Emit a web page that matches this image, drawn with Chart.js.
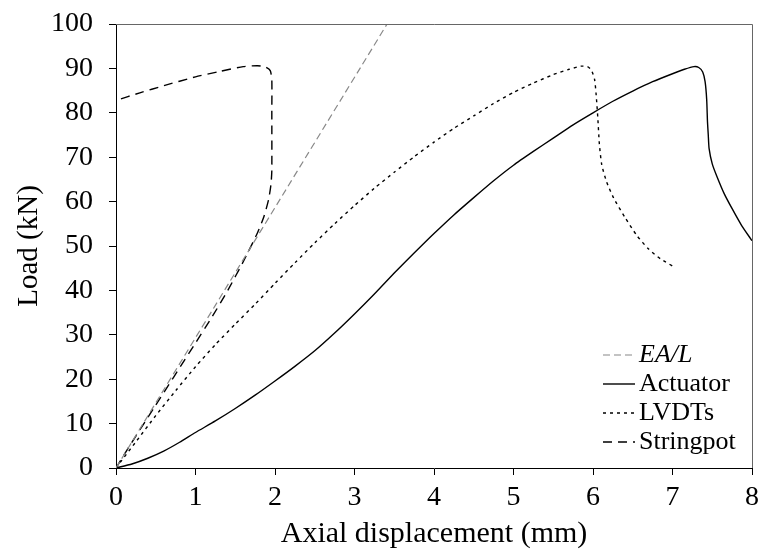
<!DOCTYPE html>
<html>
<head>
<meta charset="utf-8">
<script src="https://cdn.jsdelivr.net/npm/chart.js@4"></script>
<style>
  body { margin: 0; background: #fff; }
</style>
</head>
<body>
<canvas id="loadChart" width="761" height="552"></canvas>
<script>
// load vs axial displacement

const xTicks = [0, 1, 2, 3, 4, 5, 6, 7, 8];
const yTicks = [0, 10, 20, 30, 40, 50, 60, 70, 80, 90, 100];

const eaDisp = [0, 3.41];
const eaLoad = [0, 100];

const actuatorDisp = [0, 0.2, 0.4, 0.6, 0.8, 1.0, 1.25, 1.5, 1.75, 2.0, 2.25, 2.5, 2.75, 3.0, 3.25, 3.5, 3.75, 4.0, 4.25, 4.5, 4.75, 5.0, 5.25, 5.5, 5.75, 6.0, 6.25, 6.5, 6.75, 7.0, 7.15, 7.27, 7.33, 7.38, 7.41, 7.43, 7.44, 7.45, 7.46, 7.5, 7.56, 7.65, 7.75, 7.87, 8.0];
const actuatorLoad = [0, 0.9, 2.2, 3.8, 5.8, 8.0, 10.6, 13.4, 16.4, 19.6, 22.9, 26.4, 30.4, 34.7, 39.2, 43.9, 48.4, 52.8, 57.0, 60.9, 64.7, 68.2, 71.3, 74.3, 77.3, 80.0, 82.6, 84.9, 87.0, 88.8, 89.8, 90.4, 90.2, 89.2, 87, 83, 78, 75, 72, 68.5, 65.6, 61.8, 58.4, 54.6, 51.2];

const lvdtDisp = [0, 0.25, 0.5, 0.75, 1.0, 1.25, 1.5, 1.75, 2.0, 2.25, 2.5, 2.75, 3.0, 3.25, 3.5, 3.75, 4.0, 4.25, 4.5, 4.75, 5.0, 5.25, 5.5, 5.7, 5.85, 5.93, 5.98, 6.02, 6.04, 6.06, 6.08, 6.11, 6.17, 6.26, 6.4, 6.55, 6.7, 6.85, 7.01];
const lvdtLoad = [0, 5.9, 11.8, 17.4, 22.8, 27.8, 32.4, 36.9, 41.6, 46.2, 50.7, 55.0, 59.1, 63.0, 66.6, 70.1, 73.4, 76.5, 79.3, 82.1, 84.6, 86.7, 88.6, 89.8, 90.5, 90.4, 89.6, 87.5, 84, 79, 73, 68.3, 64.5, 60.8, 56.5, 52.4, 49.3, 47.1, 45.4];

const stringpotDisp = [0, 0.14, 0.48, 0.98, 1.2, 1.4, 1.61, 1.77, 1.86, 1.92, 1.95, 1.96, 1.96, 1.96, 1.94, 1.88, 1.78, 1.6, 1.3, 1.0, 0.6, 0.3, 0];
const stringpotLoad = [0, 4.1, 13.6, 27.6, 33.8, 39.8, 46.8, 52.6, 56.6, 60.5, 64, 67, 80, 87.5, 89.5, 90.3, 90.6, 90.4, 89.3, 88.1, 86.1, 84.5, 82.8];

const toPoints = (xs, ys) => xs.map((x, i) => ({ x: x, y: ys[i] }));

const serif = '"Liberation Serif", "Times New Roman", serif';

// legend drawn inside the plot, lower right
const insideLegend = {
  id: 'insideLegend',
  afterDatasetsDraw(chart) {
    const ctx = chart.ctx;
    const area = chart.chartArea;
    const x0 = area.right - 149;
    let y = area.bottom - 113;
    ctx.save();
    chart.data.datasets.forEach(ds => {
      ctx.beginPath();
      ctx.setLineDash(ds.borderDash || []);
      ctx.strokeStyle = ds.borderColor;
      ctx.lineWidth = ds.borderWidth;
      ctx.moveTo(x0, y);
      ctx.lineTo(x0 + 32, y);
      ctx.stroke();
      ctx.setLineDash([]);
      ctx.fillStyle = '#000';
      ctx.font = (ds.italic ? 'italic ' : '') + '26px ' + serif;
      ctx.textBaseline = 'middle';
      ctx.fillText(ds.label, x0 + 36, y);
      y += 29;
    });
    ctx.restore();
  }
};

// grey frame on top and right
const frame = {
  id: 'frame',
  afterDraw(chart) {
    const ctx = chart.ctx;
    const a = chart.chartArea;
    ctx.save();
    ctx.strokeStyle = '#666';
    ctx.lineWidth = 1;
    ctx.beginPath();
    ctx.moveTo(a.left, a.top + 0.5);
    ctx.lineTo(a.right + 0.5, a.top + 0.5);
    ctx.lineTo(a.right + 0.5, a.bottom);
    ctx.stroke();
    ctx.restore();
  }
};

new Chart(document.getElementById('loadChart'), {
  type: 'line',
  data: {
    datasets: [
      { label: 'EA/L', italic: true, data: toPoints(eaDisp, eaLoad), borderColor: '#888', borderWidth: 1.2, borderDash: [7, 4] },
      { label: 'Actuator', data: toPoints(actuatorDisp, actuatorLoad), borderColor: '#000', borderWidth: 1.4, borderDash: [] },
      { label: 'LVDTs', data: toPoints(lvdtDisp, lvdtLoad), borderColor: '#000', borderWidth: 1.4, borderDash: [3, 4] },
      { label: 'Stringpot', data: toPoints(stringpotDisp, stringpotLoad), borderColor: '#000', borderWidth: 1.4, borderDash: [9, 6] }
    ]
  },
  options: {
    responsive: false,
    animation: false,
    events: [],
    layout: { padding: { left: 0, top: 24, right: 9, bottom: 0 } },
    elements: {
      point: { radius: 0 },
      line: { tension: 0.2, fill: false }
    },
    plugins: {
      legend: { display: false },
      tooltip: { enabled: false }
    },
    scales: {
      x: {
        type: 'linear',
        min: 0, max: 8,
        afterFit: s => { s.height = 84; s.paddingLeft = 0; s.paddingRight = 0; },
        afterBuildTicks: s => { s.ticks = xTicks.map(v => ({ value: v })); },
        grid: { drawOnChartArea: false, drawTicks: true, tickLength: 7, color: '#000' },
        border: { display: true, color: '#000', width: 1 },
        ticks: { color: '#000', padding: 6, font: { family: serif, size: 28 } },
        title: { display: true, text: 'Axial displacement (mm)', color: '#000', padding: { top: 0, bottom: 0 }, font: { family: serif, size: 30 } }
      },
      y: {
        type: 'linear',
        min: 0, max: 100,
        afterFit: s => { s.width = 116; s.paddingTop = 0; s.paddingBottom = 0; },
        afterBuildTicks: s => { s.ticks = yTicks.map(v => ({ value: v })); },
        grid: { drawOnChartArea: false, drawTicks: true, tickLength: 7, color: '#000' },
        border: { display: true, color: '#000', width: 1 },
        ticks: { color: '#000', padding: 16, font: { family: serif, size: 28 } },
        title: { display: true, text: 'Load (kN)', color: '#000', padding: { top: 12, bottom: 0 }, font: { family: serif, size: 29 } }
      }
    }
  },
  plugins: [insideLegend, frame]
});
</script>
</body>
</html>
